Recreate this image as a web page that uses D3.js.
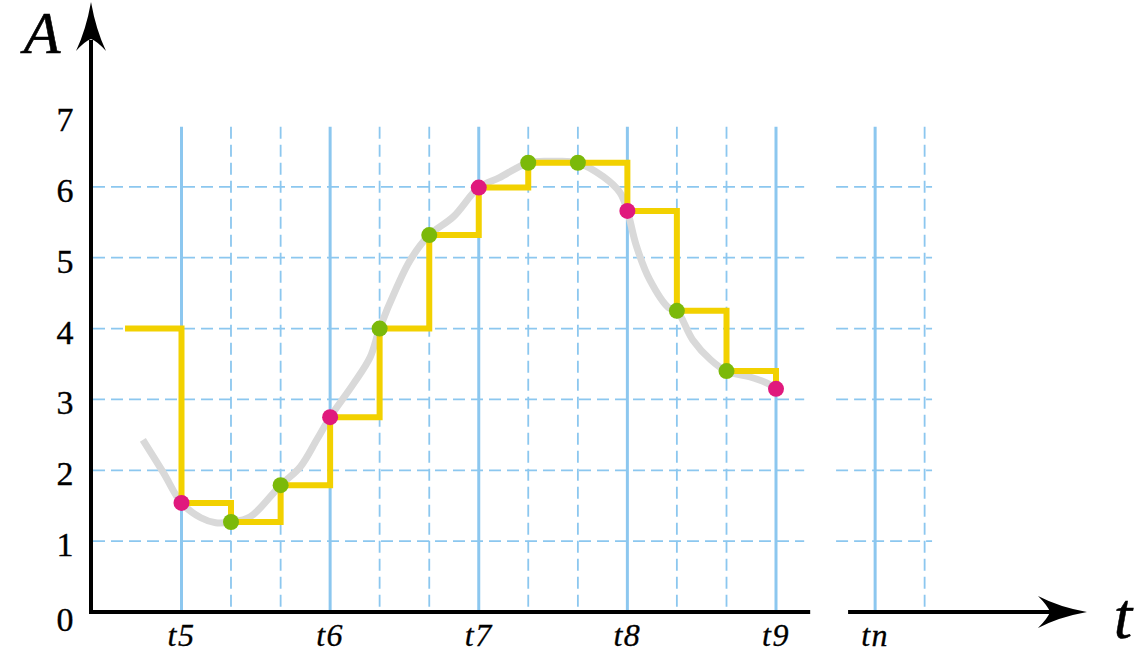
<!DOCTYPE html>
<html>
<head>
<meta charset="utf-8">
<script src="https://cdn.jsdelivr.net/npm/d3@7"></script>
<style>
  html, body { margin: 0; padding: 0; background: #ffffff; }
  svg { display: block; }
</style>
</head>
<body>
<svg id="chart" width="1137" height="655"></svg>
<script>
// ---------------- data ----------------
const yTicks = [0, 1, 2, 3, 4, 5, 6, 7];
const yGrid = [1, 2, 3, 4, 5, 6];
const xTickLabels = ["t5", "t6", "t7", "t8", "t9", "tn"];
const xTickPos = [5, 6, 7, 8, 9, 9.667];
const xSubGrid = [5.333, 5.667, 6.333, 6.667, 7.333, 7.667, 8.333, 8.667, 10];
// sampled points (pink at integer times, green at thirds)
const sampleT = [5, 5.333, 5.667, 6, 6.333, 6.667, 7, 7.333, 7.667, 8, 8.333, 8.667, 9];
const sampleA = [1.54, 1.27, 1.79, 2.75, 4.0, 5.32, 5.99, 6.34, 6.34, 5.66, 4.25, 3.40, 3.15];
const sampleKind = ["main", "sub", "sub", "main", "sub", "sub", "main", "sub", "sub", "main", "sub", "sub", "main"];
// hold value before first sample
const holdStartT = 4.62;
const holdStartA = 4.0;
// underlying continuous signal
const curveT = [4.74, 4.88, 5.0, 5.13, 5.23, 5.333, 5.46, 5.667, 5.80, 5.91, 6.0, 6.16, 6.27, 6.333, 6.45, 6.54, 6.667, 6.83, 7.0, 7.14, 7.333, 7.5, 7.667, 7.84, 7.95, 8.0, 8.06, 8.15, 8.28, 8.333, 8.44, 8.56, 8.667, 8.82, 8.94, 9.0];
const curveA = [2.43, 1.96, 1.54, 1.33, 1.26, 1.27, 1.34, 1.79, 2.05, 2.43, 2.75, 3.23, 3.60, 4.0, 4.59, 4.97, 5.32, 5.58, 5.99, 6.13, 6.34, 6.36, 6.34, 6.14, 5.92, 5.66, 5.17, 4.69, 4.29, 4.25, 3.84, 3.56, 3.40, 3.32, 3.23, 3.15];

// ---------------- layout ----------------
const svg = d3.select("#chart");
const axisX = 91;       // pixel of y axis
const x = d3.scaleLinear().domain([5, 9]).range([181.5, 776]);
const y = d3.scaleLinear().domain([0, 7]).range([612, 116]);
const gridTop = y(6.85);
const breakL = x(9.23), breakR = x(9.485);
const gridRightEnd = x(10.05);
const xAxisEnd = 1087;

const blue = "#8cc7ef";
const fontFam = "'Liberation Serif', 'Times New Roman', serif";

// ---------------- grid ----------------
const grid = svg.append("g");
// horizontal dashed
yGrid.forEach(v => {
  grid.append("line")
    .attr("x1", axisX + 2).attr("x2", breakL - 6)
    .attr("y1", y(v)).attr("y2", y(v))
    .attr("stroke", blue).attr("stroke-width", 1.8).attr("stroke-dasharray", "12,6");
  grid.append("line")
    .attr("x1", breakR - 12).attr("x2", gridRightEnd)
    .attr("y1", y(v)).attr("y2", y(v))
    .attr("stroke", blue).attr("stroke-width", 1.8).attr("stroke-dasharray", "12,6");
});
// vertical dashed
xSubGrid.forEach(t => {
  grid.append("line")
    .attr("x1", x(t)).attr("x2", x(t))
    .attr("y1", gridTop).attr("y2", y(0))
    .attr("stroke", blue).attr("stroke-width", 1.8).attr("stroke-dasharray", "12,6");
});
// vertical solid
xTickPos.forEach(t => {
  grid.append("line")
    .attr("x1", x(t)).attr("x2", x(t))
    .attr("y1", gridTop).attr("y2", y(0))
    .attr("stroke", blue).attr("stroke-width", 3);
});

// ---------------- underlying curve ----------------
const curvePts = curveT.map((t, i) => [t, curveA[i]]);
svg.append("path")
  .datum(curvePts)
  .attr("fill", "none")
  .attr("stroke", "#d9d9d9")
  .attr("stroke-width", 7)
  .attr("stroke-linecap", "butt")
  .attr("d", d3.line().x(d => x(d[0])).y(d => y(d[1])).curve(d3.curveCatmullRom.alpha(0.5)));

// ---------------- sample and hold ----------------
const stepPts = [[holdStartT, holdStartA]];
sampleT.forEach((t, i) => stepPts.push([t, sampleA[i]]));
svg.append("path")
  .datum(stepPts)
  .attr("fill", "none")
  .attr("stroke", "#f2d100")
  .attr("stroke-width", 6)
  .attr("stroke-linejoin", "miter")
  .attr("d", d3.line().x(d => x(d[0])).y(d => y(d[1])).curve(d3.curveStepAfter));

// ---------------- sample points ----------------
svg.append("g").selectAll("circle")
  .data(sampleT.map((t, i) => ({ t, a: sampleA[i], k: sampleKind[i] })))
  .join("circle")
  .attr("cx", d => x(d.t))
  .attr("cy", d => y(d.a))
  .attr("r", 8)
  .attr("fill", d => d.k === "main" ? "#e0197d" : "#7bb90a");

// ---------------- axes ----------------
const ax = svg.append("g");
ax.append("line").attr("x1", axisX).attr("x2", axisX).attr("y1", y(0) + 2).attr("y2", 40)
  .attr("stroke", "#000").attr("stroke-width", 4);
ax.append("line").attr("x1", axisX - 2).attr("x2", breakL).attr("y1", y(0)).attr("y2", y(0))
  .attr("stroke", "#000").attr("stroke-width", 4);
ax.append("line").attr("x1", breakR).attr("x2", xAxisEnd - 35).attr("y1", y(0)).attr("y2", y(0))
  .attr("stroke", "#000").attr("stroke-width", 4);

// arrow heads
const pY = d3.path();
pY.moveTo(axisX, 2);
pY.quadraticCurveTo(axisX + 5, 30, axisX + 15, 51);
pY.quadraticCurveTo(axisX + 6, 41, axisX, 39);
pY.quadraticCurveTo(axisX - 6, 41, axisX - 15, 51);
pY.quadraticCurveTo(axisX - 5, 30, axisX, 2);
pY.closePath();
ax.append("path").attr("d", pY.toString()).attr("fill", "#000");

const ay = y(0);
const pX = d3.path();
pX.moveTo(xAxisEnd, ay);
pX.quadraticCurveTo(xAxisEnd - 28, ay - 5, xAxisEnd - 49, ay - 16);
pX.quadraticCurveTo(xAxisEnd - 39, ay - 6, xAxisEnd - 37, ay);
pX.quadraticCurveTo(xAxisEnd - 39, ay + 6, xAxisEnd - 49, ay + 16);
pX.quadraticCurveTo(xAxisEnd - 28, ay + 5, xAxisEnd, ay);
pX.closePath();
ax.append("path").attr("d", pX.toString()).attr("fill", "#000");

// ---------------- tick labels ----------------
svg.append("g").selectAll("text")
  .data(yTicks)
  .join("text")
  .attr("x", 65)
  .attr("y", d => y(d) + (d === 0 ? 19 : 15))
  .attr("text-anchor", "middle")
  .attr("font-family", fontFam)
  .attr("font-size", 34)
  .attr("fill", "#000")
  .attr("stroke", "#000").attr("stroke-width", 0.35)
  .text(d => d);

svg.append("g").selectAll("text")
  .data(xTickLabels)
  .join("text")
  .attr("x", (d, i) => x(xTickPos[i]))
  .attr("y", 646)
  .attr("text-anchor", "middle")
  .attr("font-family", fontFam)
  .attr("font-style", "italic")
  .attr("font-size", 32)
  .attr("letter-spacing", 1.5)
  .attr("fill", "#000")
  .attr("stroke", "#000").attr("stroke-width", 0.3)
  .text(d => d);

// axis titles
svg.append("text")
  .attr("x", 42).attr("y", 53)
  .attr("text-anchor", "middle")
  .attr("font-family", fontFam)
  .attr("font-style", "italic")
  .attr("font-size", 60)
  .attr("fill", "#000")
  .attr("stroke", "#000").attr("stroke-width", 0.6)
  .text("A");

svg.append("text")
  .attr("x", 1123).attr("y", 638)
  .attr("text-anchor", "middle")
  .attr("font-family", fontFam)
  .attr("font-style", "italic")
  .attr("font-size", 66)
  .attr("fill", "#000")
  .attr("stroke", "#000").attr("stroke-width", 0.5)
  .text("t");
</script>
</body>
</html>
